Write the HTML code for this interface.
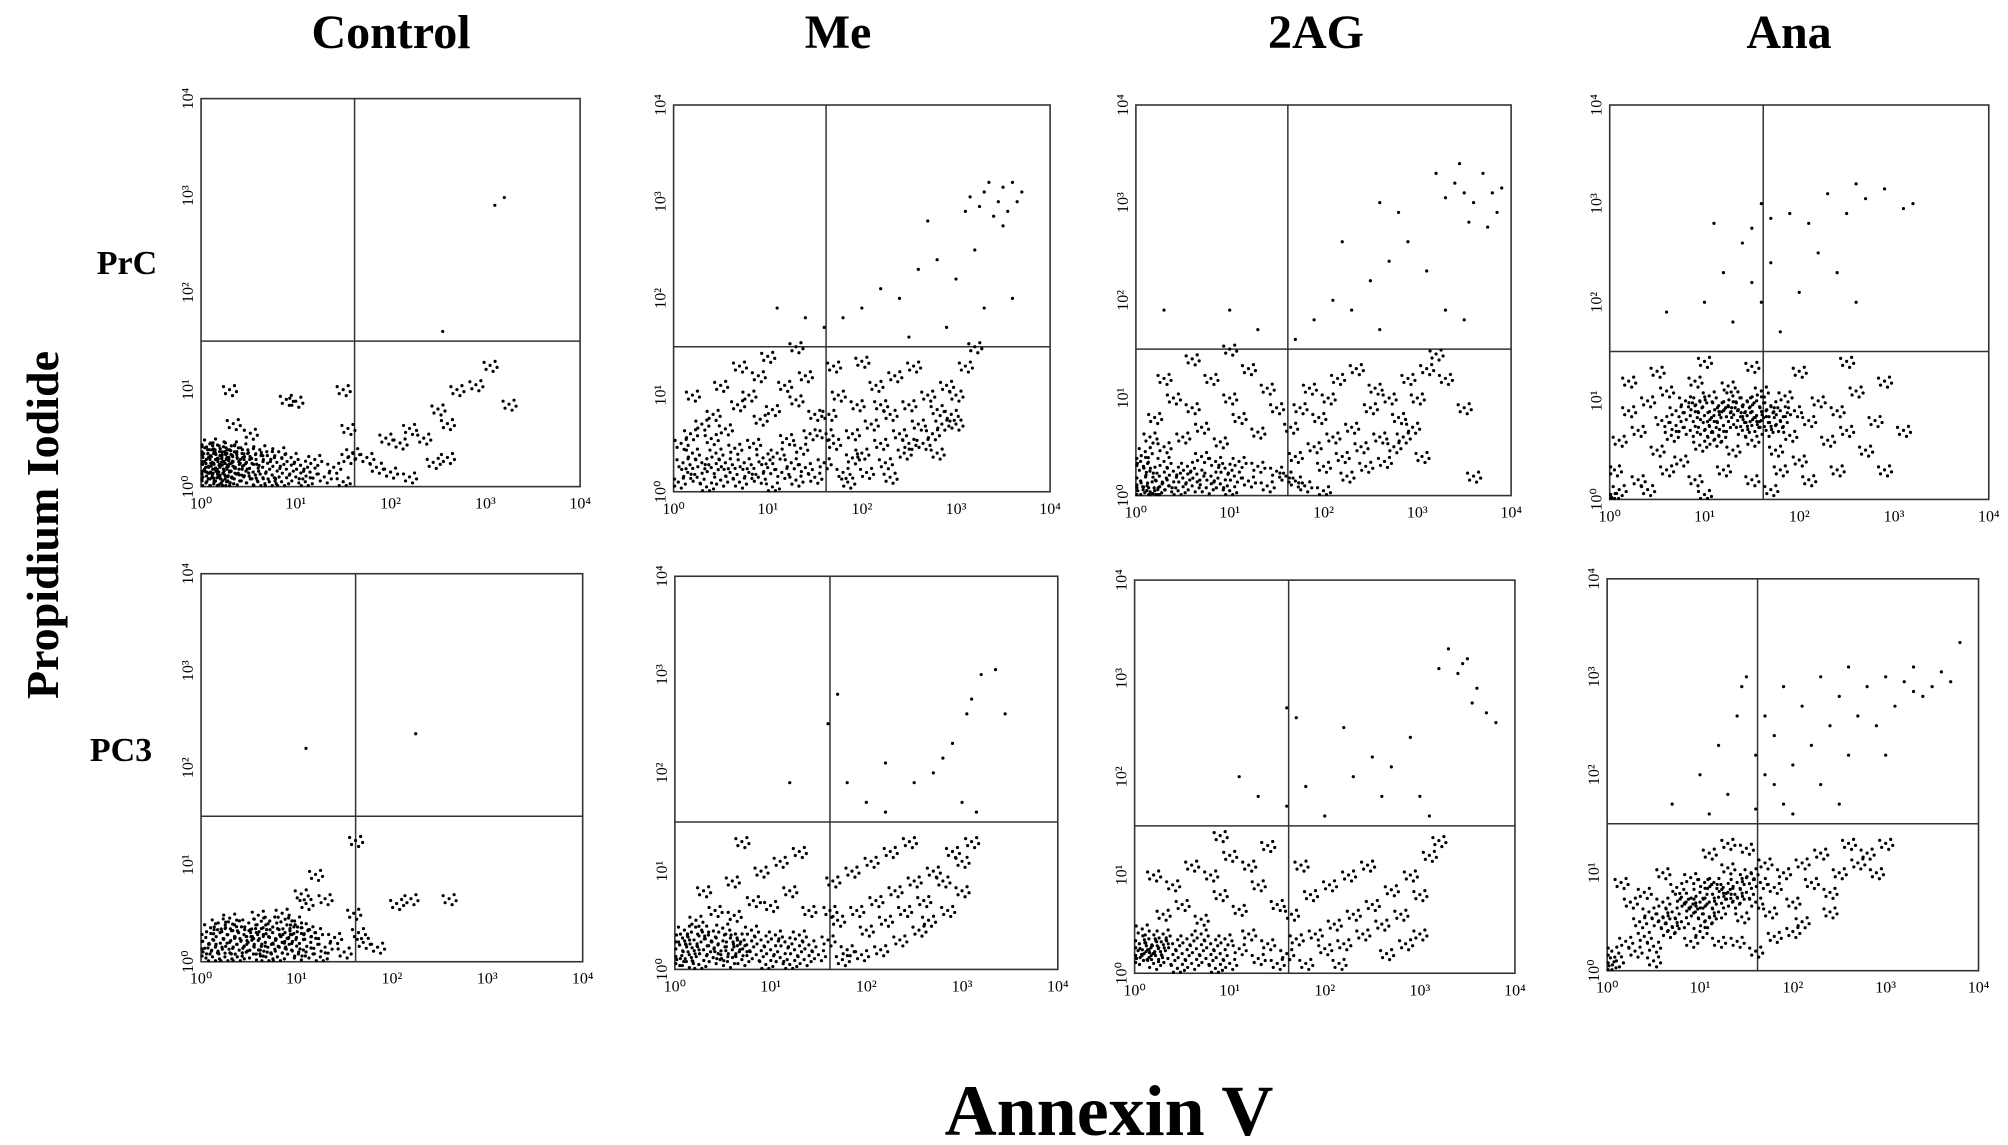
<!DOCTYPE html>
<html><head><meta charset="utf-8"><style>
html,body{margin:0;padding:0;background:#fff;}
svg{display:block;font-family:"Liberation Serif",serif;}
</style></head><body>
<svg id="fig" width="2008" height="1145" viewBox="0 0 2008 1145" xmlns="http://www.w3.org/2000/svg">
<text x="391" y="48" font-size="48" font-weight="bold" text-anchor="middle">Control</text>
<text x="838" y="48" font-size="48" font-weight="bold" text-anchor="middle">Me</text>
<text x="1316" y="48" font-size="48" font-weight="bold" text-anchor="middle">2AG</text>
<text x="1789" y="48" font-size="48" font-weight="bold" text-anchor="middle">Ana</text>
<text x="127" y="274" font-size="34" font-weight="bold" text-anchor="middle">PrC</text>
<text x="121" y="761" font-size="34" font-weight="bold" text-anchor="middle">PC3</text>
<text transform="translate(58,525) rotate(-90)" font-size="46" font-weight="bold" text-anchor="middle">Propidium Iodide</text>
<text x="1109" y="1135" font-size="72" font-weight="bold" text-anchor="middle">Annexin V</text>
<g id="panels"></g>
</svg>
<script>
const decadeLabels = ["10\u2070","10\u00B9","10\u00B2","10\u00B3","10\u2074"];
const gateX = 1.62;
const gateY = 1.5;
const ctlPrC = [[0.02,0.1],[0.05,0.2],[0.08,0.3],[0.1,0.15],[0.12,0.25],[0.15,0.35],[0.18,0.1],[0.2,0.2],[0.22,0.3],[0.25,0.12],[0.28,0.22],[0.3,0.38],[0.04,0.4],[0.06,0.05],[0.1,0.45],[0.14,0.05],[0.16,0.28],[0.19,0.42],[0.23,0.06],[0.26,0.33],[0.3,0.15],[0.33,0.25],[0.35,0.08],[0.38,0.3],[0.4,0.18],[0.42,0.4],[0.45,0.1],[0.48,0.25],[0.5,0.35],[0.55,0.15],[0.58,0.28],[0.6,0.05],[0.65,0.2],[0.7,0.32],[0.75,0.12],[0.8,0.25],[0.85,0.05],[0.9,0.18],[0.95,0.3],[1.0,0.1],[1.05,0.22],[1.1,0.05],[1.15,0.15],[1.2,0.28],[1.3,0.1],[1.4,0.2],[1.5,0.05],[1.55,0.3],[0.08,0.2],[0.12,0.12],[0.2,0.32],[0.27,0.05],[0.32,0.42],[0.02,0.3],[0.07,0.38],[0.17,0.18],[0.24,0.26],[0.36,0.2],[0.44,0.3],[0.52,0.08],[0.62,0.38],[0.72,0.05],[0.82,0.36],[0.34,0.65],[0.52,0.55],[0.9,0.9],[1.0,0.88],[0.3,1.0],[1.5,1.0],[1.55,0.6],[1.6,0.35],[1.75,0.3],[1.85,0.2],[1.95,0.5],[2.1,0.45],[2.2,0.6],[2.35,0.5],[2.5,0.8],[2.6,0.65],[2.7,1.0],[2.9,1.05],[3.05,1.25],[3.25,0.85],[2.45,0.25],[2.2,0.1],[2.0,0.15],[2.6,0.3],[2.55,1.6],[3.1,2.9],[3.2,2.98]];
const ctlPC3 = [[0.02,0.1],[0.05,0.25],[0.1,0.35],[0.15,0.15],[0.2,0.3],[0.25,0.05],[0.3,0.2],[0.35,0.38],[0.4,0.12],[0.45,0.28],[0.5,0.4],[0.55,0.08],[0.6,0.22],[0.65,0.35],[0.7,0.15],[0.75,0.3],[0.8,0.05],[0.85,0.2],[0.9,0.38],[0.95,0.12],[1.0,0.25],[1.05,0.35],[1.1,0.1],[1.15,0.2],[1.2,0.3],[1.25,0.05],[1.3,0.15],[1.4,0.25],[1.5,0.1],[0.08,0.18],[0.18,0.4],[0.28,0.28],[0.38,0.05],[0.48,0.18],[0.58,0.3],[0.68,0.05],[0.78,0.22],[0.88,0.3],[0.98,0.42],[0.12,0.05],[0.22,0.15],[0.32,0.32],[0.42,0.22],[0.52,0.3],[0.62,0.12],[0.72,0.42],[0.82,0.15],[0.92,0.25],[1.02,0.08],[1.12,0.32],[0.3,0.45],[0.6,0.48],[0.85,0.5],[1.05,0.7],[1.1,0.6],[1.2,0.9],[1.3,0.65],[1.6,0.5],[1.65,0.3],[1.7,0.2],[1.85,0.15],[2.05,0.6],[2.2,0.65],[2.6,0.65],[1.1,2.2],[2.25,2.35],[1.62,1.25]];
const mePrC = [[0.05,0.1],[0.1,0.3],[0.15,0.2],[0.2,0.4],[0.25,0.15],[0.3,0.3],[0.35,0.05],[0.4,0.25],[0.45,0.4],[0.5,0.12],[0.55,0.3],[0.6,0.2],[0.65,0.45],[0.7,0.1],[0.75,0.3],[0.8,0.2],[0.85,0.5],[0.9,0.15],[0.95,0.35],[1.0,0.25],[1.05,0.05],[1.1,0.4],[1.15,0.2],[1.2,0.55],[1.25,0.3],[1.3,0.12],[1.35,0.45],[1.4,0.25],[1.45,0.6],[1.5,0.15],[0.08,0.5],[0.18,0.6],[0.3,0.7],[0.42,0.8],[0.55,0.65],[0.68,0.9],[0.8,1.0],[0.92,0.75],[1.05,0.85],[1.18,1.1],[1.3,0.95],[1.4,1.2],[1.5,0.8],[0.2,1.0],[0.5,1.1],[0.7,1.3],[1.0,1.4],[1.3,1.5],[0.9,1.2],[0.4,0.55],[1.6,0.3],[1.7,0.5],[1.8,0.2],[1.9,0.6],[2.0,0.4],[2.1,0.7],[2.2,0.5],[2.3,0.8],[2.4,0.6],[2.5,0.9],[2.6,0.7],[2.7,1.0],[2.8,0.85],[2.9,1.1],[3.0,1.0],[3.1,1.3],[3.2,1.5],[1.65,0.8],[1.75,1.0],[1.85,0.1],[1.95,0.9],[2.05,0.2],[2.15,1.1],[2.25,0.3],[2.35,1.2],[2.45,0.4],[2.55,1.3],[2.65,0.5],[2.75,0.6],[2.85,0.7],[2.95,0.8],[1.7,1.3],[2.0,1.35],[1.62,0.6],[2.2,0.9],[2.5,0.5],[2.8,0.4],[3.0,0.7],[1.9,0.35],[2.3,0.15],[1.6,1.7],[1.8,1.8],[2.0,1.9],[2.2,2.1],[2.4,2.0],[2.6,2.3],[2.8,2.4],[3.0,2.2],[3.3,1.9],[3.6,2.0],[2.5,1.6],[2.9,1.7],[3.2,2.5],[2.7,2.8],[1.4,1.8],[1.1,1.9],[3.1,2.9],[3.15,3.05],[3.25,2.95],[3.3,3.1],[3.4,2.85],[3.45,3.0],[3.5,3.15],[3.55,2.9],[3.6,3.2],[3.65,3.0],[3.7,3.1],[3.5,2.75],[3.35,3.2]];
const agPrC = [[0.02,0.05],[0.05,0.15],[0.08,0.3],[0.12,0.1],[0.15,0.25],[0.2,0.05],[0.25,0.2],[0.3,0.35],[0.35,0.1],[0.4,0.25],[0.45,0.05],[0.5,0.18],[0.55,0.3],[0.6,0.1],[0.65,0.22],[0.7,0.4],[0.75,0.08],[0.8,0.2],[0.85,0.35],[0.9,0.12],[0.95,0.28],[1.0,0.05],[1.05,0.2],[1.1,0.35],[1.2,0.15],[1.3,0.3],[1.4,0.1],[1.5,0.25],[0.1,0.45],[0.3,0.5],[0.5,0.6],[0.7,0.7],[0.9,0.55],[1.1,0.8],[1.3,0.65],[1.5,0.9],[0.2,0.8],[0.4,1.0],[0.6,0.9],[0.8,1.2],[1.0,1.0],[1.2,1.3],[1.4,1.1],[0.3,1.2],[0.6,1.4],[1.0,1.5],[0.15,0.6],[0.05,0.35],[0.18,0.02],[0.28,0.12],[1.6,0.2],[1.7,0.4],[1.8,0.1],[1.9,0.5],[2.0,0.3],[2.1,0.6],[2.2,0.4],[2.3,0.7],[2.4,0.5],[2.5,0.9],[2.6,0.6],[2.7,1.0],[2.8,0.8],[2.9,1.2],[3.0,1.0],[3.1,1.3],[3.2,1.45],[1.65,0.7],[1.75,0.9],[1.85,1.1],[1.95,0.8],[2.05,1.0],[2.15,1.2],[2.25,0.2],[2.35,1.3],[2.45,0.3],[2.55,1.1],[2.65,0.35],[2.75,0.5],[2.85,0.6],[2.95,0.7],[3.05,0.4],[1.7,0.15],[2.0,0.05],[3.3,1.2],[3.5,0.9],[3.6,0.2],[1.7,1.6],[1.9,1.8],[2.1,2.0],[2.3,1.9],[2.5,2.2],[2.7,2.4],[2.9,2.6],[3.1,2.3],[2.6,1.7],[2.2,2.6],[1.3,1.7],[1.0,1.9],[0.3,1.9],[3.3,1.9],[3.5,1.8],[2.8,2.9],[3.3,3.05],[3.4,3.2],[3.5,3.1],[3.6,3.0],[3.7,3.3],[3.8,3.1],[3.85,2.9],[3.9,3.15],[3.55,2.8],[3.75,2.75],[3.2,3.3],[3.45,3.4],[2.6,3.0]];
const anaPrC = [[0.1,0.6],[0.2,0.9],[0.3,0.7],[0.4,1.0],[0.5,0.5],[0.55,0.8],[0.6,1.1],[0.65,0.65],[0.7,0.9],[0.75,0.4],[0.8,1.0],[0.85,0.7],[0.9,1.2],[0.95,0.55],[1.0,0.85],[1.05,1.05],[1.1,0.6],[1.15,0.95],[1.2,0.75],[1.25,1.15],[1.3,0.5],[1.35,0.9],[1.4,0.7],[1.45,1.0],[1.5,0.6],[1.55,0.85],[1.6,1.1],[1.65,0.7],[1.7,0.95],[1.75,0.5],[1.8,0.8],[1.85,1.05],[1.9,0.65],[1.95,0.9],[2.0,0.4],[2.1,0.8],[2.2,1.0],[2.3,0.6],[2.4,0.9],[2.5,0.7],[2.6,1.1],[2.7,0.5],[2.8,0.8],[0.85,0.85],[0.95,1.0],[1.05,0.75],[1.15,0.65],[1.25,0.95],[1.35,0.8],[1.45,0.85],[1.55,1.0],[1.65,0.9],[1.75,0.75],[1.0,0.7],[1.2,0.9],[1.4,0.95],[1.3,1.05],[1.1,0.85],[0.9,0.95],[1.6,0.8],[0.7,0.75],[1.5,0.75],[1.8,0.9],[0.3,0.2],[0.6,0.3],[0.9,0.2],[1.2,0.3],[1.5,0.2],[1.8,0.3],[2.1,0.2],[0.4,0.1],[1.0,0.05],[1.7,0.1],[2.4,0.3],[0.05,0.3],[0.2,1.2],[0.5,1.3],[1.0,1.4],[1.5,1.35],[2.0,1.3],[2.5,1.4],[2.9,1.2],[3.1,0.7],[2.9,0.3],[0.1,0.1],[0.02,0.02],[1.0,2.0],[1.2,2.3],[1.4,2.6],[1.5,2.2],[1.3,1.8],[1.6,2.0],[1.7,2.4],[1.8,1.7],[2.0,2.1],[2.2,2.5],[2.4,2.3],[2.6,2.0],[1.1,2.8],[0.6,1.9],[1.6,3.0],[1.7,2.85],[1.9,2.9],[2.1,2.8],[2.3,3.1],[2.5,2.9],[2.7,3.05],[2.9,3.15],[3.1,2.95],[3.2,3.0],[2.6,3.2],[1.5,2.75]];
const mePC3 = [[0.02,0.1],[0.05,0.25],[0.1,0.4],[0.15,0.15],[0.2,0.3],[0.25,0.05],[0.3,0.2],[0.35,0.35],[0.4,0.12],[0.45,0.25],[0.5,0.42],[0.55,0.08],[0.6,0.2],[0.65,0.32],[0.7,0.1],[0.75,0.25],[0.8,0.4],[0.85,0.15],[0.9,0.3],[0.95,0.05],[1.0,0.2],[1.05,0.35],[1.1,0.12],[1.15,0.28],[1.2,0.05],[1.25,0.2],[1.3,0.35],[1.35,0.1],[1.4,0.25],[1.5,0.15],[0.08,0.32],[0.18,0.22],[0.28,0.4],[0.38,0.28],[0.48,0.15],[0.58,0.32],[0.68,0.2],[0.12,0.08],[0.22,0.5],[0.42,0.6],[0.62,0.55],[0.82,0.7],[1.0,0.65],[1.2,0.8],[1.4,0.6],[0.3,0.8],[0.6,0.9],[0.9,1.0],[1.1,1.1],[1.3,1.2],[0.7,1.3],[1.6,0.3],[1.7,0.5],[1.8,0.2],[1.9,0.6],[2.0,0.4],[2.1,0.7],[2.2,0.5],[2.3,0.8],[2.4,0.6],[2.5,0.9],[2.6,0.7],[2.7,1.0],[2.8,0.9],[2.9,1.2],[3.0,1.1],[3.1,1.3],[1.65,0.9],[1.85,1.0],[2.05,1.1],[2.25,1.2],[2.45,1.3],[1.75,0.1],[2.15,0.2],[2.35,0.3],[1.95,0.15],[2.55,0.4],[2.65,0.5],[2.85,0.6],[3.0,0.8],[1.62,0.6],[1.2,1.9],[1.8,1.9],[2.0,1.7],[2.2,2.1],[2.5,1.9],[2.7,2.0],[2.8,2.15],[3.0,1.7],[3.15,1.6],[2.9,2.3],[1.7,2.8],[1.6,2.5],[3.05,2.6],[3.1,2.75],[3.2,3.0],[3.35,3.05],[3.45,2.6],[2.2,1.6]];
const agPC3 = [[0.02,0.15],[0.05,0.3],[0.1,0.2],[0.15,0.35],[0.2,0.1],[0.25,0.25],[0.3,0.4],[0.35,0.15],[0.4,0.3],[0.45,0.05],[0.5,0.2],[0.55,0.35],[0.6,0.1],[0.65,0.25],[0.7,0.4],[0.75,0.15],[0.8,0.3],[0.85,0.05],[0.9,0.2],[0.95,0.35],[1.0,0.1],[1.1,0.25],[1.2,0.4],[1.3,0.15],[1.4,0.3],[1.5,0.1],[0.08,0.45],[0.3,0.6],[0.5,0.7],[0.7,0.55],[0.9,0.8],[1.1,0.65],[1.3,0.9],[1.5,0.7],[0.4,0.9],[0.6,1.1],[0.8,1.0],[1.0,1.2],[1.2,1.1],[1.4,1.3],[0.2,1.0],[0.9,1.4],[0.12,0.22],[0.18,0.28],[0.22,0.18],[0.28,0.32],[1.6,0.2],[1.7,0.35],[1.8,0.1],[1.9,0.4],[2.0,0.25],[2.1,0.5],[2.2,0.3],[2.3,0.6],[2.4,0.4],[2.5,0.7],[2.6,0.5],[2.7,0.85],[2.8,0.6],[2.9,1.0],[3.0,0.8],[3.1,1.2],[3.2,1.35],[1.65,0.6],[1.85,0.8],[2.05,0.9],[2.25,1.0],[2.45,1.1],[2.65,0.2],[2.85,0.3],[1.75,1.1],[2.15,0.1],[3.0,0.4],[1.6,1.7],[1.8,1.9],[2.0,1.6],[2.3,2.0],[2.5,2.2],[2.7,2.1],[2.9,2.4],[3.0,1.8],[3.1,1.6],[1.3,1.8],[1.1,2.0],[1.6,2.7],[1.7,2.6],[2.2,2.5],[2.6,1.8],[3.2,3.1],[3.3,3.3],[3.4,3.05],[3.5,3.2],[3.6,2.9],[3.7,2.65],[3.55,2.75],[3.45,3.15],[3.8,2.55]];
const anaPC3 = [[0.1,0.1],[0.2,0.3],[0.3,0.2],[0.35,0.5],[0.4,0.35],[0.45,0.6],[0.5,0.25],[0.55,0.5],[0.6,0.7],[0.65,0.4],[0.7,0.6],[0.75,0.85],[0.8,0.5],[0.85,0.7],[0.9,0.95],[0.95,0.6],[1.0,0.8],[1.05,0.5],[1.1,0.7],[1.15,0.9],[1.2,0.6],[1.25,0.85],[1.3,1.05],[1.35,0.7],[1.4,0.9],[1.45,0.55],[1.5,0.8],[1.55,1.0],[1.6,0.7],[1.65,0.9],[1.7,1.1],[1.75,0.6],[1.8,0.85],[1.9,1.0],[2.0,0.7],[2.1,1.1],[2.2,0.9],[2.3,1.2],[2.4,0.8],[2.5,1.0],[2.6,1.3],[2.7,1.1],[2.8,1.2],[2.9,1.0],[3.0,1.3],[0.8,0.75],[0.9,0.65],[1.0,0.7],[1.05,0.9],[1.1,0.55],[1.2,0.75],[1.3,0.8],[1.4,0.75],[1.5,0.95],[0.7,0.45],[0.6,0.55],[1.0,0.4],[1.2,0.3],[1.4,0.3],[0.9,0.3],[1.6,0.2],[1.8,0.35],[2.0,0.4],[0.5,0.1],[0.25,0.7],[0.15,0.9],[1.1,1.2],[1.3,1.3],[1.5,1.25],[0.6,1.0],[0.4,0.8],[2.1,0.5],[2.4,0.6],[0.05,0.2],[0.02,0.05],[0.7,1.7],[1.0,2.0],[1.2,2.3],[1.4,2.6],[1.3,1.8],[1.6,2.2],[1.7,2.0],[1.8,2.4],[1.9,1.7],[2.0,2.1],[2.1,2.7],[2.2,2.3],[2.3,1.9],[2.4,2.5],[2.5,2.8],[2.6,2.2],[2.7,2.6],[2.8,2.9],[2.9,2.5],[3.0,3.0],[3.1,2.7],[3.2,2.95],[3.3,3.1],[3.4,2.8],[3.5,2.9],[3.6,3.05],[3.7,2.95],[3.8,3.35],[3.3,2.85],[1.5,3.0],[1.45,2.9],[1.7,2.6],[1.9,2.9],[2.3,3.0],[2.6,3.1],[1.1,1.6],[1.6,1.65],[2.0,1.6],[2.5,1.7],[3.0,2.2],[1.8,1.9]];

// panel layout and marker styling (pixel geometry, not data)
const S = 1.2806;
const layout = [
  {name:"control-prc", pts:ctlPrC, box:[157,77,453,380], marker:"dense"},
  {name:"me-prc", pts:mePrC, box:[526,82,820,384], marker:"dense"},
  {name:"2ag-prc", pts:agPrC, box:[887,82,1180,387], marker:"dense"},
  {name:"ana-prc", pts:anaPrC, box:[1257,82,1553,390], marker:"dense"},
  {name:"control-pc3", pts:ctlPC3, box:[157,448,455,751], marker:"dense"},
  {name:"me-pc3", pts:mePC3, box:[527,450,826,757], marker:"dense"},
  {name:"2ag-pc3", pts:agPC3, box:[886,453,1183,760], marker:"dense"},
  {name:"ana-pc3", pts:anaPC3, box:[1255,452,1545,758], marker:"dense"}
];
// marker glyph: a small fixed cluster of dots drawn around each event position
const markerDense = [[0,0],[5,-4],[-4,4],[3,6],[-6,-3],[7,2]];
const markerSparse = [[0,0]];
const NS = "http://www.w3.org/2000/svg";
const root = document.getElementById("panels");
function mk(tag, attrs){ const e=document.createElementNS(NS,tag); for(const k in attrs) e.setAttribute(k,attrs[k]); return e; }
layout.forEach(p => {
  const x0=p.box[0]*S, y0=p.box[1]*S, x1=p.box[2]*S, y1=p.box[3]*S;
  const sx = v => x0 + (x1-x0)*v/4;
  const sy = v => y1 - (y1-y0)*v/4;
  const g = mk("g",{});
  
  
  const frame = mk("rect",{x:x0,y:y0,width:x1-x0,height:y1-y0,fill:"none",stroke:"#333","stroke-width":1.6});
  
  
  g.appendChild(frame);
  const vg = mk("line",{x1:sx(gateX),x2:sx(gateX),y1:y0,y2:y1,stroke:"#333","stroke-width":1.5});
  
  
  g.appendChild(vg);
  const hg = mk("line",{x1:x0,x2:x1,y1:sy(gateY),y2:sy(gateY),stroke:"#333","stroke-width":1.5});
  
  
  g.appendChild(hg);
  decadeLabels.forEach((lab,i) => {
    const tx = mk("text",{x:sx(i),y:y1+22,"font-size":16,"text-anchor":"middle"});
    tx.textContent = lab;
    
    
    g.appendChild(tx);
    const ty = mk("text",{transform:"translate("+(x0-8)+","+sy(i)+") rotate(-90)","font-size":16,"text-anchor":"middle"});
    ty.textContent = lab;
    
    
    g.appendChild(ty);
  });
  p.pts.forEach(pt => {
    const cx = sx(pt[0]), cy = sy(pt[1]);
    const offs = (pt[1] > gateY) ? markerSparse : markerDense;
    offs.forEach(o => {
      let px = Math.min(Math.max(cx + o[0], x0+1), x1-1);
      let py = Math.min(Math.max(cy + o[1], y0+1), y1-1);
      const c = mk("circle",{cx:px,cy:py,r:1.6,fill:"#000"});
      
      
      g.appendChild(c);
    });
  });
  root.appendChild(g);
});
</script>
</body></html>
